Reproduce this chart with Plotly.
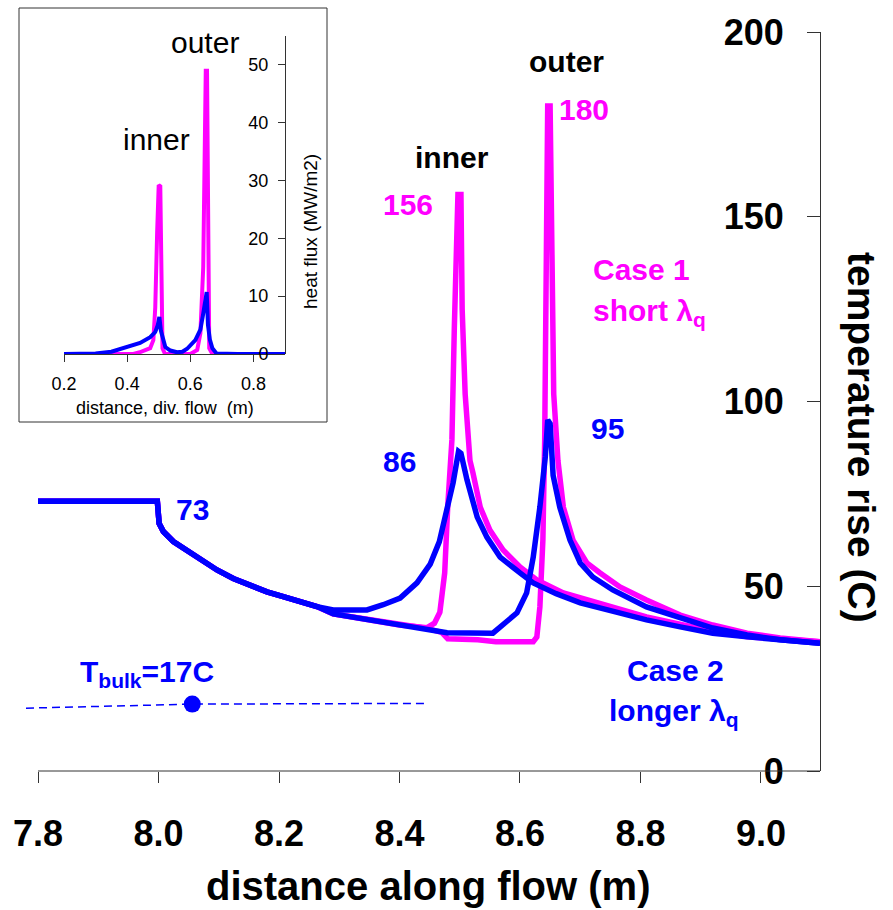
import plotly.graph_objects as go

W, H = 893, 910
FONT = "Liberation Sans, Arial, sans-serif"
MAG = "#FF00FF"
BLU = "#0000FF"
AX = "#333333"

# ---------------- main chart data (temperature rise, C) ----------------
common_x = [7.80, 7.998, 8.001, 8.008, 8.0246, 8.041, 8.069, 8.097, 8.124, 8.152, 8.180, 8.207, 8.235, 8.263]
common_t = [73.0, 73.0, 67.0, 64.8, 62.1, 60.3, 57.1, 54.4, 52.1, 50.3, 48.5, 47.2, 45.8, 44.5]

c2_inner_x = [8.29, 8.346, 8.373, 8.401, 8.429, 8.451, 8.466, 8.478, 8.489, 8.498, 8.502, 8.512, 8.529, 8.545,
              8.567, 8.600, 8.622, 8.660, 8.700, 8.760, 8.810, 8.866, 8.920, 8.977, 9.030, 9.098]
c2_inner_t = [43.6, 43.6, 45.0, 46.8, 50.9, 56.0, 62.0, 70.0, 78.0, 86.5, 86.0, 78.8, 68.7, 63.3,
              57.9, 53.6, 50.9, 48.0, 45.5, 43.0, 40.9, 39.0, 37.3, 36.3, 35.5, 34.6]

c2_outer_x = [8.29, 8.346, 8.400, 8.446, 8.479, 8.555, 8.572, 8.595, 8.611, 8.622, 8.633, 8.642, 8.646, 8.650,
              8.655, 8.666, 8.683, 8.700, 8.721, 8.754, 8.810, 8.866, 8.920, 8.977, 9.032, 9.098]
c2_outer_t = [42.5, 41.0, 39.5, 38.6, 37.4, 37.3, 39.5, 42.8, 48.2, 57.9, 71.4, 85.0, 95.0, 94.0,
              80.0, 71.4, 62.5, 56.3, 52.5, 49.0, 44.4, 41.4, 38.7, 36.8, 35.5, 34.6]

c1_inner_x = [8.29, 8.346, 8.400, 8.446, 8.458, 8.467, 8.475, 8.480, 8.487, 8.491, 8.494, 8.497, 8.502, 8.504,
              8.509, 8.517, 8.522, 8.534, 8.550, 8.572, 8.600, 8.628, 8.672, 8.728, 8.810, 8.894, 8.977, 9.098]
c1_inner_t = [42.5, 41.0, 39.5, 38.8, 40.0, 43.0, 53.6, 71.4, 89.6, 120.0, 145.0, 156.0, 156.0, 125.0,
              102.0, 84.0, 80.6, 71.4, 65.2, 59.8, 55.2, 51.7, 48.2, 45.5, 41.7, 38.7, 36.3, 35.0]

c1_outer_x = [8.29, 8.346, 8.400, 8.446, 8.470, 8.480, 8.530, 8.560, 8.622, 8.628, 8.633, 8.638, 8.641, 8.644,
              8.646, 8.650, 8.652, 8.656, 8.663, 8.672, 8.688, 8.711, 8.733, 8.766, 8.810, 8.866, 8.920,
              8.977, 9.032, 9.098]
c1_outer_t = [42.5, 41.0, 39.5, 38.6, 37.5, 35.8, 35.5, 35.0, 35.0, 36.3, 44.4, 62.5, 89.6, 150.0,
              180.0, 180.0, 140.0, 102.0, 84.0, 71.4, 62.5, 56.3, 53.6, 49.8, 46.3, 42.2, 39.5,
              37.3, 36.0, 35.0]

tbulk_x = [7.78, 8.056, 8.447]
tbulk_t = [17.0, 18.1, 18.3]
tbulk_dot_x = [8.056]
tbulk_dot_t = [18.1]

x_ticks = [7.8, 8.0, 8.2, 8.4, 8.6, 8.8, 9.0]
x_ticklabels = ["7.8", "8.0", "8.2", "8.4", "8.6", "8.8", "9.0"]
y_ticks = [0, 50, 100, 150, 200]

# ---------------- inset data (heat flux, MW/m2) ----------------
in_blue_x = [0.20, 0.30, 0.35, 0.378, 0.41, 0.441, 0.473, 0.489, 0.497, 0.502, 0.507, 0.513, 0.521, 0.537,
             0.558, 0.575, 0.59, 0.616, 0.632, 0.641, 0.648, 0.652, 0.656, 0.662, 0.67, 0.683, 0.75, 0.90]
in_blue_q = [0.0, 0.1, 0.4, 0.9, 1.3, 1.9, 2.9, 3.8, 5.0, 6.4, 4.0, 2.6, 1.2, 0.6,
             0.3, 0.4, 0.9, 2.4, 4.2, 7.0, 9.3, 10.7, 5.0, 2.5, 1.0, 0.1, 0.0, 0.0]
in_mag_x = [0.20, 0.42, 0.44, 0.473, 0.483, 0.489, 0.495, 0.500, 0.505, 0.508, 0.512, 0.52, 0.60, 0.622,
            0.632, 0.641, 0.644, 0.649, 0.653, 0.656, 0.66, 0.67, 0.90]
in_mag_q = [0.0, 0.0, 0.3, 1.0, 2.4, 8.0, 21.0, 29.2, 29.0, 15.0, 1.0, 0.0, 0.0, 0.7,
            3.6, 15.0, 35.0, 49.0, 49.0, 30.0, 1.0, 0.0, 0.0]
in_x_ticks = [0.2, 0.4, 0.6, 0.8]
in_x_ticklabels = ["0.2", "0.4", "0.6", "0.8"]
in_y_ticks = [0, 10, 20, 30, 40, 50]


def px(x):
    return x / W


def py(y):
    return 1 - y / H


fig = go.Figure()

# main traces (magenta below blue)
for xs, ys in [(common_x + c1_inner_x, common_t + c1_inner_t), (common_x + c1_outer_x, common_t + c1_outer_t)]:
    fig.add_trace(go.Scatter(x=xs, y=ys, mode="lines", line=dict(color=MAG, width=5.5), xaxis="x", yaxis="y"))
for xs, ys in [(common_x + c2_inner_x, common_t + c2_inner_t), (common_x + c2_outer_x, common_t + c2_outer_t)]:
    fig.add_trace(go.Scatter(x=xs, y=ys, mode="lines", line=dict(color=BLU, width=5.5), xaxis="x", yaxis="y"))

fig.add_trace(go.Scatter(x=tbulk_x, y=tbulk_t, mode="lines",
                         line=dict(color=BLU, width=1.5, dash="8px,5px"), xaxis="x", yaxis="y"))
fig.add_trace(go.Scatter(x=tbulk_dot_x, y=tbulk_dot_t, mode="markers",
                         marker=dict(color=BLU, size=17), xaxis="x", yaxis="y"))

# inset traces
fig.add_trace(go.Scatter(x=in_mag_x, y=in_mag_q, mode="lines", line=dict(color=MAG, width=4),
                         xaxis="x2", yaxis="y2"))
fig.add_trace(go.Scatter(x=in_blue_x, y=in_blue_q, mode="lines", line=dict(color=BLU, width=4),
                         xaxis="x2", yaxis="y2"))

bold36 = dict(family=FONT, size=36, color="black", weight="bold")
norm18 = dict(family=FONT, size=18, color="black")

fig.update_layout(
    width=W, height=H, autosize=False,
    margin=dict(l=0, r=0, t=0, b=0, pad=0, autoexpand=False),
    paper_bgcolor="white", plot_bgcolor="rgba(0,0,0,0)", showlegend=False,
    xaxis=dict(domain=[px(26), px(820)], range=[7.78, 9.098], showline=False, showgrid=False,
               zeroline=False, ticks="outside", ticklen=11, tickcolor=AX, tickwidth=1,
               tickvals=x_ticks, ticktext=x_ticklabels, tickfont=bold36, ticklabelstandoff=20,
               anchor="y", automargin=False),
    yaxis=dict(domain=[py(771), py(32)], range=[0, 200], side="left", anchor="free", position=px(820),
               showline=True, linecolor=AX, linewidth=1, showgrid=False, zeroline=False,
               ticks="outside", ticklen=13, tickcolor=AX, tickvals=y_ticks, tickfont=bold36,
               ticklabelstandoff=16, automargin=False),
    xaxis2=dict(domain=[px(64), px(285)], range=[0.2, 0.9], anchor="y2", showline=True, linecolor=AX,
                linewidth=1, showgrid=False, zeroline=False, ticks="outside", ticklen=7, tickcolor=AX,
                tickvals=in_x_ticks, ticktext=in_x_ticklabels, tickfont=norm18, ticklabelstandoff=6,
                automargin=False),
    yaxis2=dict(domain=[py(354), py(36)], range=[0, 55], anchor="free", position=px(285), side="left",
                showline=True, linecolor=AX, linewidth=1, showgrid=False, zeroline=False,
                ticks="outside", ticklen=7, tickcolor=AX, tickvals=in_y_ticks, tickfont=norm18,
                ticklabelstandoff=6, automargin=False),
)

# x-axis baseline of main chart (starts at 7.8)
fig.add_shape(type="line", xref="paper", yref="paper", x0=px(38), x1=px(820), y0=py(771), y1=py(771),
              line=dict(color=AX, width=1))
# inset frame
fig.add_shape(type="rect", xref="paper", yref="paper", x0=px(19), x1=px(327), y0=py(8), y1=py(422),
              line=dict(color=AX, width=1))


def ann(text, x, y, size, color="black", bold=False, xanchor="center", angle=0):
    f = dict(family=FONT, size=size, color=color)
    if bold:
        f["weight"] = "bold"
    fig.add_annotation(text=text, x=px(x), y=py(y), xref="paper", yref="paper", showarrow=False,
                       xanchor=xanchor, yanchor="middle", font=f, textangle=angle)


# inset texts
ann("inner", 156, 139, 30)
ann("outer", 205, 42, 30)
ann("heat flux (MW/m2)", 311, 232, 19, angle=-90)
ann("distance, div. flow  (m)", 165, 408, 18)

# main texts
ann("inner", 452, 157, 30, bold=True)
ann("outer", 566, 62, 30, bold=True)
ann("156", 408, 205, 30, MAG, True)
ann("180", 584, 109, 30, MAG, True)
ann("86", 399, 461, 30, BLU, True)
ann("95", 607, 428, 30, BLU, True)
ann("73", 192, 509, 30, BLU, True)
ann("Case 1", 591, 269, 30, MAG, True, xanchor="left")
ann("short λ<sub>q</sub>", 591, 312, 30, MAG, True, xanchor="left")
ann("Case 2", 675, 670, 30, BLU, True)
ann("longer λ<sub>q</sub>", 674, 712, 30, BLU, True)
ann("T<sub>bulk</sub>=17C", 78, 673, 30, BLU, True, xanchor="left")
ann("temperature rise (C)", 862, 437, 39, bold=True, angle=90)
ann("distance along flow (m)", 428, 886, 40, bold=True)

fig.write_html("out.html")
